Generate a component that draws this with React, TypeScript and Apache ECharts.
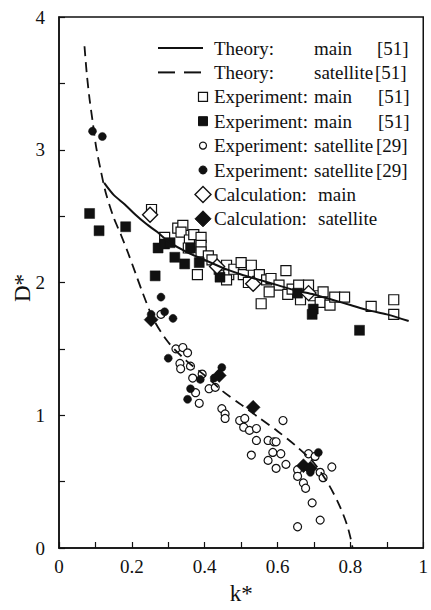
import React, { useEffect, useRef } from "react";
import * as echarts from "echarts";

// Theory curves [k*, D*]
const theoryMain: number[][] = [
  [0.124, 2.75], [0.15, 2.66], [0.18, 2.59], [0.21, 2.51], [0.24, 2.44], [0.27, 2.38],
  [0.30, 2.31], [0.35, 2.23], [0.40, 2.17], [0.45, 2.11], [0.50, 2.06], [0.55, 2.02],
  [0.60, 1.98], [0.65, 1.94], [0.70, 1.91], [0.75, 1.87], [0.80, 1.83], [0.85, 1.79],
  [0.90, 1.76], [0.96, 1.71],
];
const theorySatellite: number[][] = [
  [0.07, 3.78], [0.076, 3.58], [0.084, 3.38], [0.092, 3.22], [0.102, 3.02], [0.115, 2.84],
  [0.128, 2.68], [0.15, 2.49], [0.17, 2.36], [0.19, 2.22], [0.21, 2.07], [0.23, 1.92],
  [0.26, 1.72], [0.30, 1.55], [0.35, 1.41], [0.40, 1.3], [0.45, 1.18], [0.50, 1.08],
  [0.55, 0.98], [0.60, 0.88], [0.65, 0.77], [0.70, 0.64], [0.74, 0.48], [0.77, 0.32],
  [0.79, 0.18], [0.80, 0.08], [0.806, 0.0],
];

// Experiment: main [51] (open squares)
const expMainOpen: number[][] = [
  [0.254, 2.55], [0.29, 2.34], [0.326, 2.41], [0.34, 2.43], [0.335, 2.38], [0.358, 2.32],
  [0.37, 2.36], [0.39, 2.34], [0.39, 2.28], [0.39, 2.23], [0.355, 2.26], [0.38, 2.06],
  [0.41, 2.2], [0.42, 2.17], [0.44, 2.1], [0.46, 2.13], [0.466, 2.06], [0.48, 2.1],
  [0.50, 2.15], [0.46, 2.02], [0.506, 2.06], [0.52, 2.0], [0.528, 2.13], [0.55, 2.06],
  [0.57, 2.02], [0.582, 2.03], [0.623, 2.09], [0.604, 1.98], [0.577, 1.93], [0.555, 1.84],
  [0.628, 1.91], [0.64, 1.95], [0.658, 1.98], [0.685, 1.98], [0.663, 1.87], [0.70, 1.9],
  [0.725, 1.93], [0.717, 1.85], [0.744, 1.83], [0.757, 1.89], [0.784, 1.89], [0.857, 1.82],
  [0.919, 1.87], [0.919, 1.76],
];
// Experiment: main [51] (filled squares)
const expMainFilled: number[][] = [
  [0.084, 2.52], [0.11, 2.39], [0.183, 2.42], [0.264, 2.05], [0.272, 2.26], [0.29, 2.29],
  [0.305, 2.3], [0.318, 2.19], [0.345, 2.14], [0.385, 2.15], [0.361, 2.26], [0.442, 2.04],
  [0.655, 1.92], [0.698, 1.8], [0.695, 1.76], [0.825, 1.64],
];
// Experiment: satellite [29] (open circles)
const expSatOpen: number[][] = [
  [0.28, 1.76], [0.321, 1.5], [0.34, 1.51], [0.353, 1.47], [0.332, 1.39], [0.334, 1.35],
  [0.361, 1.37], [0.367, 1.28], [0.393, 1.31], [0.412, 1.2], [0.429, 1.21], [0.375, 1.17],
  [0.385, 1.09], [0.447, 1.05], [0.456, 1.01], [0.456, 0.976], [0.496, 0.96], [0.51, 0.976],
  [0.507, 0.91], [0.523, 0.886], [0.542, 0.9], [0.615, 0.96], [0.542, 0.81], [0.574, 0.81],
  [0.59, 0.8], [0.528, 0.7], [0.596, 0.8], [0.587, 0.72], [0.609, 0.71], [0.574, 0.66],
  [0.596, 0.6], [0.623, 0.63], [0.655, 0.59], [0.655, 0.54], [0.685, 0.71], [0.703, 0.69],
  [0.717, 0.57], [0.725, 0.53], [0.749, 0.61], [0.671, 0.49], [0.677, 0.45], [0.695, 0.34],
  [0.717, 0.21], [0.655, 0.16],
];
// Experiment: satellite [29] (filled circles)
const expSatFilled: number[][] = [
  [0.092, 3.14], [0.119, 3.1], [0.28, 1.89], [0.253, 1.76], [0.29, 1.78], [0.313, 1.73],
  [0.30, 1.43], [0.361, 1.2], [0.353, 1.12], [0.388, 1.27], [0.447, 1.36], [0.44, 1.31],
  [0.426, 1.28], [0.712, 0.72], [0.69, 0.57],
];
// Calculation: main (open diamonds)
const calcMain: number[][] = [[0.25, 2.51], [0.434, 2.12], [0.533, 1.99], [0.685, 1.92]];
// Calculation: satellite (filled diamonds)
const calcSat: number[][] = [[0.253, 1.72], [0.44, 1.3], [0.533, 1.06], [0.671, 0.62], [0.69, 0.6]];

const xTicks = [0, 0.2, 0.4, 0.6, 0.8, 1];
const yTicks = [0, 1, 2, 3, 4];
const xName = "k*";
const yName = "D*";

const INK = "#111";
const FONT = "'Liberation Serif', 'Times New Roman', serif";

// Legend rows
const legendRows = [
  { a: "Theory:", b: "main", c: "[51]", bx: 314, cx: 377 },
  { a: "Theory:", b: "satellite", c: "[51]", bx: 314, cx: 375 },
  { a: "Experiment:", b: "main", c: "[51]", bx: 314, cx: 378 },
  { a: "Experiment:", b: "main", c: "[51]", bx: 314, cx: 378 },
  { a: "Experiment:", b: "satellite", c: "[29]", bx: 314, cx: 376 },
  { a: "Experiment:", b: "satellite", c: "[29]", bx: 314, cx: 376 },
  { a: "Calculation:", b: "main", c: "", bx: 318, cx: 0 },
  { a: "Calculation:", b: "satellite", c: "", bx: 318, cx: 0 },
];

function buildLegend() {
  const y0 = 48;
  const dy = 24.4;
  const els: any[] = [];
  const txt = (text: string, x: number, y: number) => ({
    type: "text",
    x,
    y,
    style: { text, fontFamily: FONT, fontSize: 19, fill: INK, verticalAlign: "middle", align: "left" },
    z: 100,
  });
  legendRows.forEach((r, i) => {
    const y = y0 + i * dy;
    els.push(txt(r.a, 214, y));
    els.push(txt(r.b, r.bx, y));
    if (r.c) els.push(txt(r.c, r.cx, y));
  });
  const ys = (i: number) => y0 + i * dy;
  els.push({ type: "line", shape: { x1: 158, y1: ys(0), x2: 203, y2: ys(0) }, style: { stroke: INK, lineWidth: 2 }, z: 100 });
  els.push({ type: "line", shape: { x1: 158, y1: ys(1), x2: 175, y2: ys(1) }, style: { stroke: INK, lineWidth: 2 }, z: 100 });
  els.push({ type: "line", shape: { x1: 184, y1: ys(1), x2: 201, y2: ys(1) }, style: { stroke: INK, lineWidth: 2 }, z: 100 });
  els.push({ type: "rect", shape: { x: 198.5, y: ys(2) - 4.5, width: 9, height: 9 }, style: { fill: "#fff", stroke: INK, lineWidth: 1.2 }, z: 100 });
  els.push({ type: "rect", shape: { x: 198.5, y: ys(3) - 4.5, width: 9, height: 9 }, style: { fill: INK, stroke: INK, lineWidth: 1 }, z: 100 });
  els.push({ type: "circle", shape: { cx: 203, cy: ys(4), r: 3.5 }, style: { fill: "#fff", stroke: INK, lineWidth: 1.2 }, z: 100 });
  els.push({ type: "circle", shape: { cx: 203, cy: ys(5), r: 4 }, style: { fill: INK, stroke: INK, lineWidth: 1 }, z: 100 });
  const dia = (cy: number) => [[203, cy - 8], [211, cy], [203, cy + 8], [195, cy]];
  els.push({ type: "polygon", shape: { points: dia(ys(6)) }, style: { fill: "#fff", stroke: INK, lineWidth: 1.4 }, z: 100 });
  els.push({ type: "polygon", shape: { points: dia(ys(7)) }, style: { fill: INK, stroke: INK, lineWidth: 1 }, z: 100 });
  // rotated y-axis title
  els.push({
    type: "text",
    x: 22,
    y: 288,
    rotation: Math.PI / 2,
    style: { text: yName, fontFamily: FONT, fontSize: 23, fill: INK, align: "center", verticalAlign: "middle" },
    z: 100,
  });
  return els;
}

export default function App() {
  const ref = useRef<HTMLDivElement>(null);
  useEffect(() => {
    const chart = echarts.init(ref.current!, null, { renderer: "svg" });
    const axisCommon = {
      axisLine: { show: true, lineStyle: { color: INK, width: 1.5 } },
      axisTick: { show: true, inside: true, length: 6, lineStyle: { color: INK, width: 1.2 } },
      minorTick: { show: true, splitNumber: 2, length: 6, lineStyle: { color: INK, width: 1.2 } },
      splitLine: { show: false },
      nameTextStyle: { fontFamily: FONT, fontSize: 23, color: INK },
    };
    const scatter = (data: number[][], symbol: string, size: any, filled: boolean, bw = 1.2) => ({
      type: "scatter",
      data,
      symbol,
      symbolSize: size,
      itemStyle: { color: filled ? INK : "#fff", borderColor: INK, borderWidth: filled ? 0.5 : bw, opacity: 1 },
      silent: true,
    });
    chart.setOption({
      animation: false,
      backgroundColor: "#fff",
      textStyle: { fontFamily: FONT },
      grid: { left: 59, right: 1, top: 17, bottom: 56, show: true, borderColor: INK, borderWidth: 1.5, containLabel: false },
      xAxis: {
        type: "value",
        min: xTicks[0],
        max: xTicks[xTicks.length - 1],
        interval: 0.2,
        name: xName,
        nameLocation: "middle",
        nameGap: 34,
        ...axisCommon,
        axisLabel: {
          margin: 9,
          fontFamily: FONT,
          fontSize: 19,
          color: INK,
          formatter: (v: number) => (v === 0 || v === 1 ? String(v) : v.toFixed(1)),
        },
      },
      yAxis: {
        type: "value",
        min: yTicks[0],
        max: yTicks[yTicks.length - 1],
        interval: 1,
        ...axisCommon,
        axisLabel: { margin: 14, fontFamily: FONT, fontSize: 19, color: INK },
      },
      series: [
        scatter(expMainOpen, "rect", 10, false),
        scatter(expMainFilled, "rect", 10, true),
        scatter(expSatOpen, "circle", 8, false),
        scatter(expSatFilled, "circle", 8, true),
        scatter(calcMain, "diamond", 15, false, 1.4),
        scatter(calcSat, "diamond", 14, true),
        {
          type: "line",
          data: theoryMain,
          showSymbol: false,
          smooth: 0.3,
          lineStyle: { color: INK, width: 2 },
          silent: true,
          z: 5,
        },
        {
          type: "line",
          data: theorySatellite,
          showSymbol: false,
          smooth: 0.3,
          lineStyle: { color: INK, width: 1.8, type: [10, 6] },
          silent: true,
          z: 5,
        },
      ],
      graphic: buildLegend(),
    });
    return () => chart.dispose();
  }, []);
  return <div ref={ref} style={{ position: "absolute", left: 0, top: 0, width: 431, height: 610 }} />;
}
